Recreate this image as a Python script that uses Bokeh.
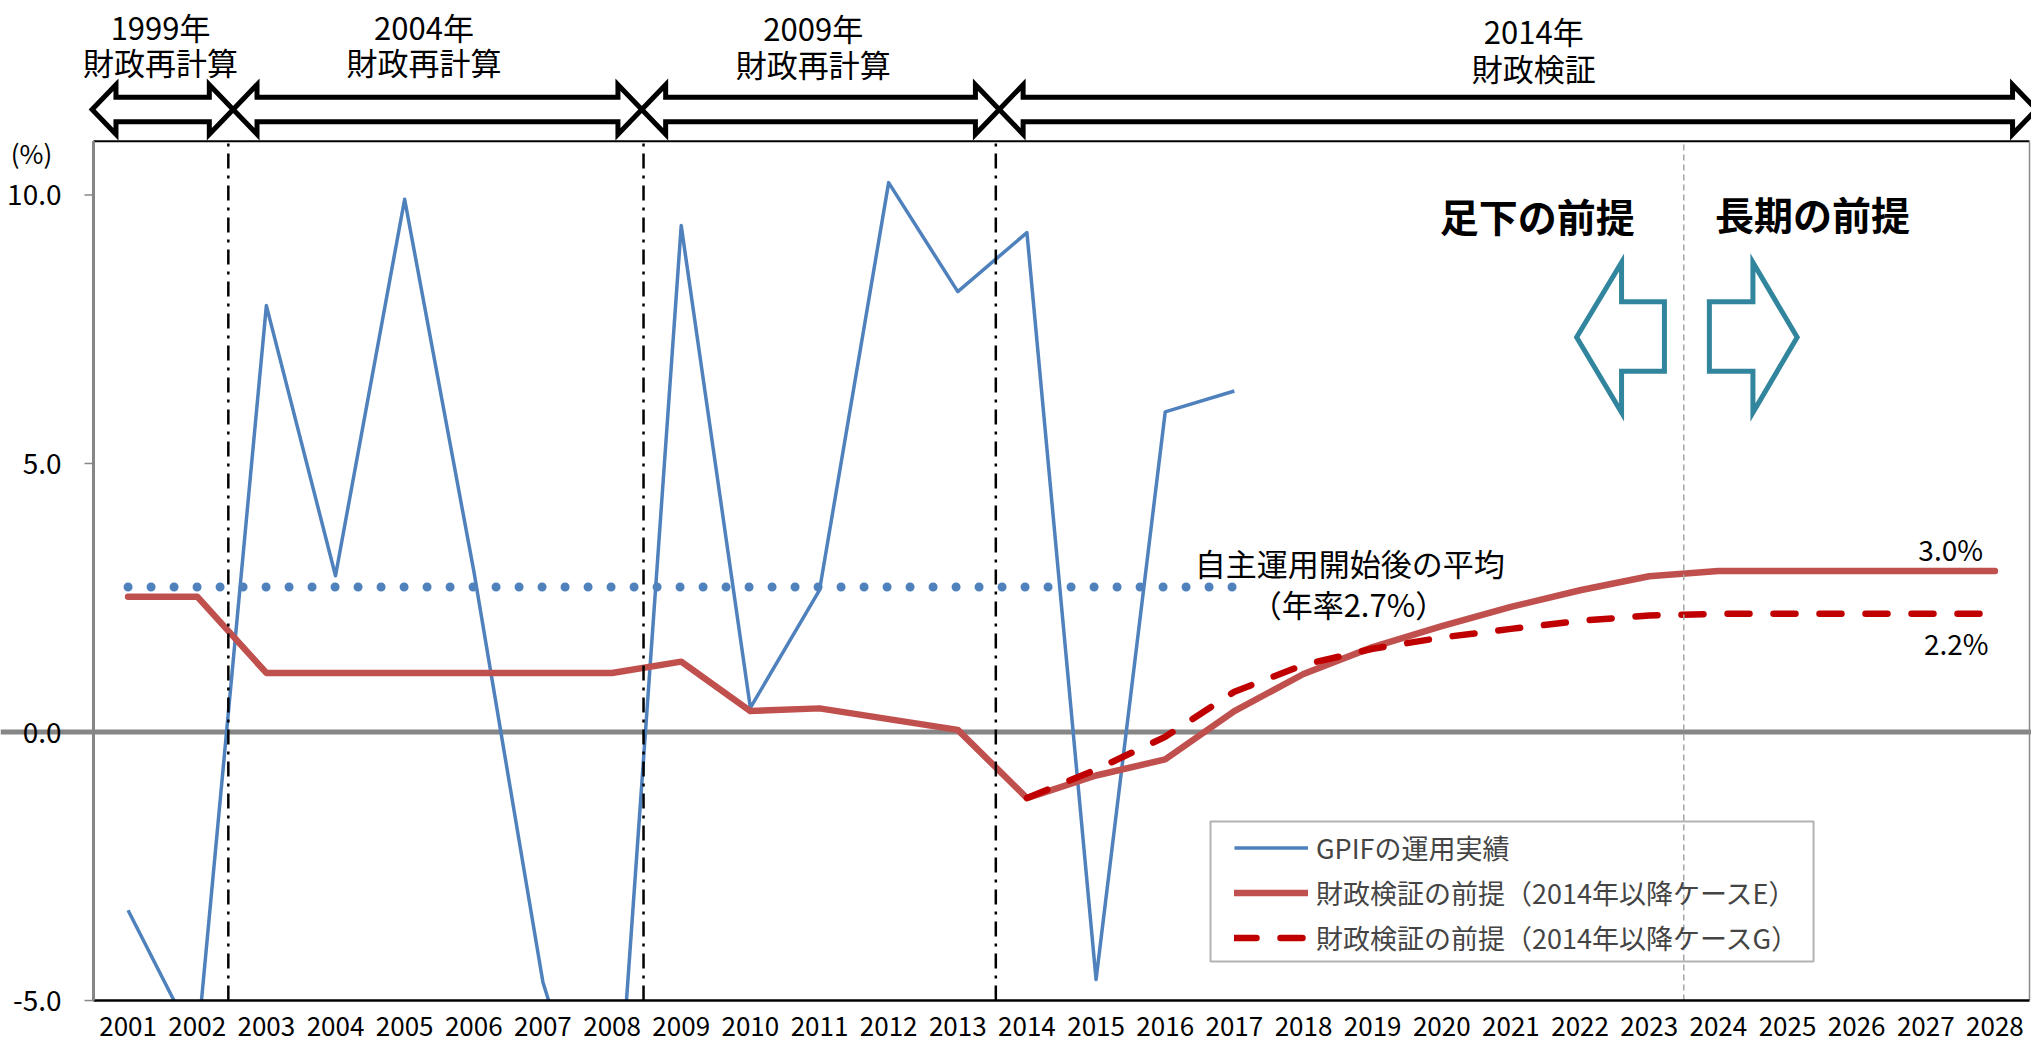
from bokeh.plotting import figure
from bokeh.models import (Range1d, Legend, LegendItem, BoxAnnotation, Span,
                          ColumnDataSource)
from bokeh.core.properties import value
from bokeh.embed import file_html
from bokeh.resources import INLINE

FONT = "Noto Sans CJK JP"

# ---------------- data ----------------
years = list(range(2001, 2029))
gpif_years = list(range(2001, 2018))
gpif_return = [-3.32, -5.85, 7.94, 2.91, 9.92, 3.0, -4.66, -8.8, 9.43, 0.45,
               2.64, 10.23, 8.20, 9.30, -4.61, 5.96, 6.35]
case_e_return = [2.52, 2.52, 1.10, 1.10, 1.10, 1.10, 1.10, 1.10, 1.31, 0.39,
                 0.44, 0.24, 0.04, -1.23, -0.81, -0.51, 0.39, 1.08, 1.58, 1.97,
                 2.33, 2.64, 2.90, 3.0, 3.0, 3.0, 3.0, 3.0]
case_g_years = list(range(2014, 2029))
case_g_return = [-1.23, -0.70, -0.09, 0.75, 1.25, 1.55, 1.76, 1.92, 2.07, 2.17,
                 2.2, 2.2, 2.2, 2.2, 2.2]
avg_return = 2.7
avg_years = [2001, 2017]

y_ticks = [-5, 0, 5, 10]
y_top = 11
era_years = ["1999年", "2004年", "2009年", "2014年"]
era_names = ["財政再計算", "財政再計算", "財政再計算", "財政検証"]
legend_labels = ["GPIFの運用実績",
                 "財政検証の前提（2014年以降ケースE）",
                 "財政検証の前提（2014年以降ケースG）"]


def pos(yrs):
    """Year -> slot index on the x scale (2001 -> 1)."""
    return [y - years[0] + 1 for y in yrs]


# ---------------- geometry ----------------
W, H = 2031, 1046
PLOT_LEFT_PX = 93                       # where the value axis sits
SLOT = 1936 / len(years)                # px per year slot
X0 = 0.5 - PLOT_LEFT_PX / SLOT          # x value at the left page edge
X1 = X0 + W / SLOT
px_x = 1 / SLOT                         # one pixel in x units
Y0, Y1 = -5.856, 13.621
X_LEFT, X_RIGHT = 0.5, len(years) + 0.5

p = figure(width=W, height=H, output_backend="svg", toolbar_location=None,
           x_range=Range1d(X0, X1), y_range=Range1d(Y0, Y1),
           x_axis_location=None, y_axis_location=None,
           min_border_left=0, min_border_right=0, min_border_top=0,
           min_border_bottom=0, outline_line_color=None,
           background_fill_color="white", border_fill_color="white")
p.grid.visible = False

# zero line
p.add_layout(Span(location=0, dimension="width", line_color="#868686",
                  line_width=5, level="underlay"))

# plot area border (top / right)
p.segment(x0=[X_LEFT], y0=[y_top], x1=[X_RIGHT], y1=[y_top],
          line_color="black", line_width=2.2)
p.segment(x0=[X_RIGHT], y0=[y_ticks[0]], x1=[X_RIGHT], y1=[y_top],
          line_color="#8C8C8C", line_width=1.5)

# series
src_gpif = ColumnDataSource(dict(x=pos(gpif_years), y=gpif_return))
src_e = ColumnDataSource(dict(x=pos(years), y=case_e_return))
src_g = ColumnDataSource(dict(x=pos(case_g_years), y=case_g_return))

r_gpif = p.line("x", "y", source=src_gpif, line_color="#4F81BD", line_width=3.5,
                line_join="round")
r_e = p.line("x", "y", source=src_e, line_color="#C0504D", line_width=6.5,
             line_join="round", line_cap="round")
r_g = p.line("x", "y", source=src_g, line_color="#C00000", line_width=6.5,
             line_join="round", line_cap="round", line_dash="22 24")
p.line(pos(avg_years), [avg_return, avg_return], line_color="#4F81BD",
       line_width=9, line_cap="round", line_dash="0 23")

# period separators
sep_x = [2.45, 8.455, 13.55]
p.segment(x0=sep_x, y0=y_ticks[0], x1=sep_x, y1=y_top,
          line_color="black", line_width=2.5, line_dash="15 7 3 7")
p.segment(x0=[23.5], y0=[y_ticks[0]], x1=[23.5], y1=[y_top], line_color="#A6A6A6",
          line_width=1.5, line_dash="6 4")

# double-headed period arrows along the top
era_edges = [0.48, 2.52, 8.43, 13.60, 28.6]
HEAD_LEN, HEAD_H, SHAFT_H, ARROW_Y = 0.345, 0.462, 0.228, 11.592
axs, ays = [], []
for a, b in zip(era_edges[:-1], era_edges[1:]):
    axs.append([a, a + HEAD_LEN, a + HEAD_LEN, b - HEAD_LEN, b - HEAD_LEN, b,
                b - HEAD_LEN, b - HEAD_LEN, a + HEAD_LEN, a + HEAD_LEN])
    ays.append([ARROW_Y, ARROW_Y + HEAD_H, ARROW_Y + SHAFT_H, ARROW_Y + SHAFT_H,
                ARROW_Y + HEAD_H, ARROW_Y, ARROW_Y - HEAD_H, ARROW_Y - SHAFT_H,
                ARROW_Y - SHAFT_H, ARROW_Y - HEAD_H])
p.patches(axs, ays, fill_color="white", line_color="black", line_width=5,
          line_join="miter")

era_x = [1.47, 5.28, 10.91, 21.33]
p.text(x=era_x, y=[13.146, 13.146, 13.118, 13.062], text=era_years,
       text_font=value(FONT), text_font_size="31px", text_align="center",
       text_baseline="middle", text_color="black")
p.text(x=era_x, y=[12.494, 12.494, 12.457, 12.373], text=era_names,
       text_font=value(FONT), text_font_size="31px", text_align="center",
       text_baseline="middle", text_color="black")

# short-term / long-term assumption markers
TEAL = "#31859C"
ac, ht, hb, st, sb = 7.35, 8.743, 5.950, 8.011, 6.719
left_arrow_x = [21.95, 22.60, 22.60, 23.22, 23.22, 22.60, 22.60]
right_arrow_x = [23.87, 24.50, 24.50, 25.14, 24.50, 24.50, 23.87]
p.patches([left_arrow_x, right_arrow_x],
          [[ac, ht, st, st, sb, sb, hb], [st, st, ht, ac, hb, sb, sb]],
          fill_alpha=0, line_color=TEAL, line_width=5, line_join="miter")
p.text(x=[21.38, 25.36], y=[9.62, 9.664], text=["足下の前提", "長期の前提"],
       text_font=value(FONT), text_font_size="39px", text_font_style="bold",
       text_align="center", text_baseline="middle", text_color="black")

# average annotation
p.text(x=[18.67, 18.65], y=[3.147, 2.39],
       text=["自主運用開始後の平均", f"（年率{avg_return}%）"],
       text_font=value(FONT), text_font_size="31px", text_align="center",
       text_baseline="middle", text_color="black")

# end-value labels
p.text(x=[27.36, 27.44], y=[case_e_return[-1] + 0.40, case_g_return[-1] - 0.54],
       text=[f"{case_e_return[-1]:.1f}%", f"{case_g_return[-1]:.1f}%"],
       text_font=value(FONT), text_font_size="28px", text_align="center",
       text_baseline="middle", text_color="black")

# legend
legend = Legend(items=[LegendItem(label=legend_labels[0], renderers=[r_gpif]),
                       LegendItem(label=legend_labels[1], renderers=[r_e]),
                       LegendItem(label=legend_labels[2], renderers=[r_g])],
                location=(1234, 86.5), orientation="vertical",
                border_line_color=None, background_fill_alpha=0,
                padding=0, margin=0, spacing=0, glyph_width=74, glyph_height=45,
                label_height=45, label_standoff=8,
                label_text_font=FONT, label_text_font_size="27px")
p.add_layout(legend)
p.add_layout(BoxAnnotation(left=16.655, right=25.377, bottom=-4.274, top=-1.667,
                           fill_alpha=0, line_color="black", line_width=2))

# keep everything below the axis floor blank, then draw both axes on top
p.add_layout(BoxAnnotation(top=y_ticks[0], fill_color="white", fill_alpha=1,
                           line_color=None))
p.segment(x0=[X_LEFT], y0=[y_ticks[0]], x1=[X_RIGHT], y1=[y_ticks[0]],
          line_color="black", line_width=2.5, level="overlay")
p.text(x=pos(years), y=[-5.484] * len(years), text=[str(y) for y in years],
       text_font=value(FONT), text_font_size="26px", text_align="center",
       text_baseline="middle", text_color="black", level="overlay")

# value axis: line, outward ticks, labels and unit
p.segment(x0=[X_LEFT], y0=[y_ticks[0]], x1=[X_LEFT], y1=[y_top],
          line_color="#868686", line_width=3, level="overlay")
p.segment(x0=[X_LEFT - 9 * px_x] * len(y_ticks), y0=y_ticks,
          x1=[X_LEFT] * len(y_ticks), y1=y_ticks,
          line_color="#868686", line_width=1.5, level="overlay")
p.text(x=[X_LEFT - 32 * px_x] * len(y_ticks), y=y_ticks,
       text=[f"{t:.1f}" for t in y_ticks],
       text_font=value(FONT), text_font_size="28px", text_align="right",
       text_baseline="middle", text_color="black", level="overlay")
p.text(x=[X_LEFT - 62 * px_x], y=[10.796], text=["(%)"],
       text_font=value(FONT), text_font_size="26px", text_align="center",
       text_baseline="middle", text_color="black", level="overlay")

open("out.html", "w").write(file_html(p, INLINE))
